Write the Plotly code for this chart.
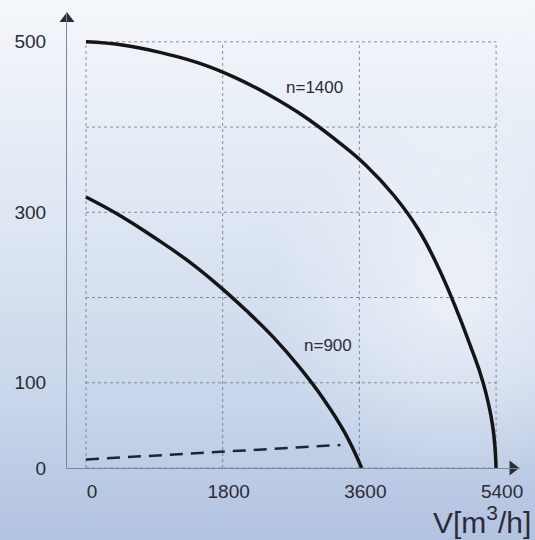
import base64
import plotly.graph_objects as go

# ---- data ----
v_1400 = [0, 500, 1000, 1490, 1965, 2424, 2865, 3288, 3688, 4052, 4369, 4630, 4851, 5051, 5233, 5354, 5400]
p_1400 = [500, 496, 487, 475, 458, 437, 413, 385, 355, 320, 281, 237, 192, 146, 99, 50, 0]

v_900 = [0, 452, 890, 1314, 1720, 2107, 2472, 2813, 3127, 3404, 3630]
p_900 = [318, 296, 271, 245, 216, 185, 153, 118, 81, 42, 0]

v_dash = [0, 3350]
p_dash = [10, 27]

x_ticks = [0, 1800, 3600, 5400]
y_ticks = [0, 100, 300, 500]
x_grid = [0, 1800, 3600, 5400]
y_grid = [0, 100, 200, 300, 400, 500]

W, H = 535, 540
ML, MR, MT, MB = 67, 15, 12, 72
PW, PH = W - ML - MR, H - MT - MB

# ---- background gradient (sky) ----
svg = """<svg xmlns='http://www.w3.org/2000/svg' width='535' height='540' preserveAspectRatio='none'>
<defs>
<linearGradient id='g' x1='0' y1='0' x2='0' y2='1'>
<stop offset='0' stop-color='#f4f7fb'/>
<stop offset='0.3' stop-color='#e4ebf5'/>
<stop offset='0.7' stop-color='#ccd8ec'/>
<stop offset='1' stop-color='#b2c3e0'/>
</linearGradient>
<radialGradient id='c' cx='0.85' cy='0.55' r='0.35'>
<stop offset='0' stop-color='#ffffff' stop-opacity='0.55'/>
<stop offset='1' stop-color='#ffffff' stop-opacity='0'/>
</radialGradient>
</defs>
<rect width='535' height='540' fill='url(#g)'/>
<rect width='535' height='540' fill='url(#c)'/>
</svg>"""
bg_src = "data:image/svg+xml;base64," + base64.b64encode(svg.encode()).decode()

fig = go.Figure()

curve_style = dict(color="#151515", width=3.5, shape="spline", smoothing=1.3)
fig.add_trace(go.Scatter(x=v_1400, y=p_1400, mode="lines", line=curve_style,
                         hoverinfo="skip", cliponaxis=False))
fig.add_trace(go.Scatter(x=v_900, y=p_900, mode="lines", line=curve_style,
                         hoverinfo="skip", cliponaxis=False))
fig.add_trace(go.Scatter(x=v_dash, y=p_dash, mode="lines",
                         line=dict(color="#202530", width=2.5, dash="13px,8px"),
                         hoverinfo="skip"))

# axis arrowheads
fig.add_trace(go.Scatter(x=[-250], y=[527], mode="markers",
                         marker=dict(symbol="triangle-up", size=13, color="#2a2d38"),
                         hoverinfo="skip", cliponaxis=False))
fig.add_trace(go.Scatter(x=[5620], y=[0], mode="markers",
                         marker=dict(symbol="triangle-right", size=13, color="#2a2d38"),
                         hoverinfo="skip", cliponaxis=False))

grid_color = "rgba(95,100,120,0.7)"
shapes = []
for gx in x_grid:
    shapes.append(dict(type="line", xref="x", yref="y", x0=gx, x1=gx,
                       y0=y_grid[0], y1=y_grid[-1],
                       line=dict(color=grid_color, width=1, dash="dot"), layer="below"))
for gy in y_grid:
    shapes.append(dict(type="line", xref="x", yref="y", x0=x_grid[0], x1=x_grid[-1],
                       y0=gy, y1=gy,
                       line=dict(color=grid_color, width=1, dash="dot"), layer="below"))

font_main = "Liberation Sans, Arial, sans-serif"

fig.update_layout(
    width=W, height=H,
    margin=dict(l=ML, r=MR, t=MT, b=MB),
    paper_bgcolor="#dbe3f0",
    plot_bgcolor="rgba(0,0,0,0)",
    showlegend=False,
    shapes=shapes,
    images=[dict(source=bg_src, xref="paper", yref="paper",
                 x=-ML / PW, y=1 + MT / PH,
                 sizex=W / PW, sizey=H / PH, sizing="stretch", layer="below",
                 xanchor="left", yanchor="top")],
    xaxis=dict(range=[-250, 5715], showgrid=False, zeroline=False,
               showline=True, linecolor="#7d879c", linewidth=1,
               tickvals=x_ticks, ticktext=[str(t) for t in x_ticks],
               ticks="", ticklabelstandoff=6, ticklabelshift=6,
               tickfont=dict(size=19, color="#2b2b33", family=font_main)),
    yaxis=dict(range=[0, 535], showgrid=False, zeroline=False,
               showline=True, linecolor="#7d879c", linewidth=1,
               tickvals=y_ticks, ticktext=[str(t) for t in y_ticks],
               ticks="", ticklabelstandoff=16,
               tickfont=dict(size=19, color="#2b2b33", family=font_main)),
    annotations=[
        dict(x=3015, y=446, xref="x", yref="y", text="n=1400", showarrow=False,
             font=dict(size=17, color="#2b2b33", family=font_main)),
        dict(x=3190, y=144, xref="x", yref="y", text="n=900", showarrow=False,
             font=dict(size=17, color="#2b2b33", family=font_main)),
        dict(x=(533 - ML) / PW, y=-(541 - MT - PH) / PH, xref="paper", yref="paper",
             xanchor="right", yanchor="bottom",
             text="V[m<sup>3</sup>/h]", showarrow=False,
             font=dict(size=30, color="#2a2c3a", family=font_main)),
    ],
)

fig.write_html("out.html", post_script="document.body.style.margin='0';",
               config={"displayModeBar": False})
